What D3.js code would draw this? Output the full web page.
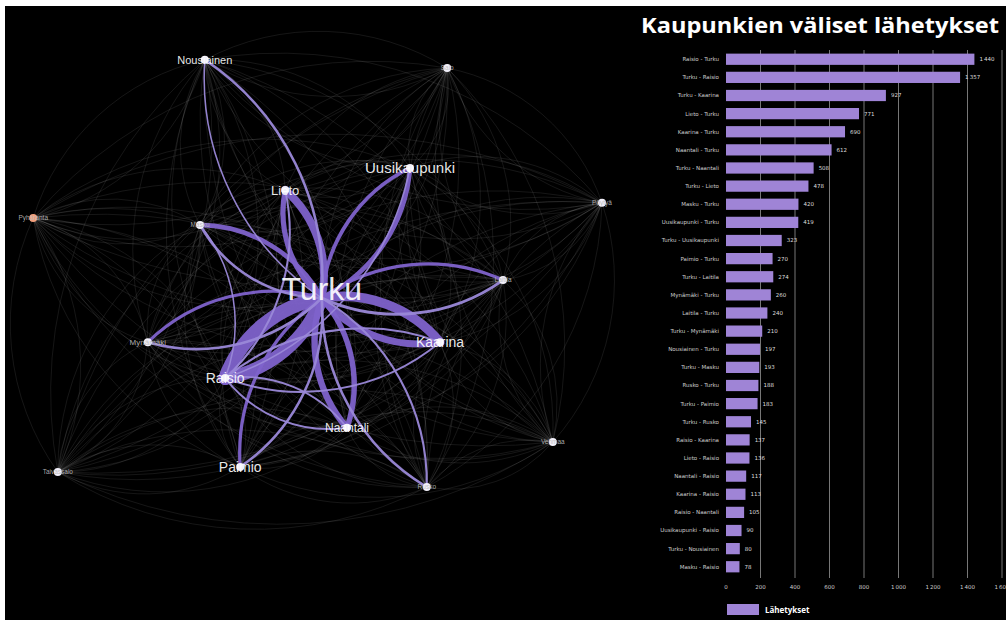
<!DOCTYPE html>
<html>
<head>
<meta charset="utf-8">
<script src="https://cdn.jsdelivr.net/npm/d3@7"></script>
<style>
  html, body { margin: 0; padding: 0; background: #fff; }
  svg { display: block; }
</style>
</head>
<body>
<svg id="chart" width="1006" height="625"></svg>
<script>
// Network nodes (layout coordinates, 0-100)
const nodeNames = ["Turku", "Raisio", "Naantali", "Kaarina", "Paimio", "Uusikaupunki", "Lieto",
    "Nousiainen", "Salo", "Pöytyä", "Pyhäranta", "Masku", "Laitila", "Mynämäki", "Vehmaa", "Rusko", "Taivassalo"];
const nodeX = [50.3, 34.2, 54.5, 70.0, 36.7, 65.0, 44.2, 30.8, 71.2, 97.0, 2.2, 30.0, 80.5, 21.3, 88.8, 67.8, 6.3];
const nodeY = [56.1, 73.5, 84.3, 65.7, 92.8, 27.8, 32.6, 4.3, 6.1, 35.4, 38.7, 40.2, 52.2, 65.7, 87.4, 97.2, 93.9];

// Flows between towns (bar chart + network links)
const flowLabels = ["Raisio - Turku", "Turku - Raisio", "Turku - Kaarina", "Lieto - Turku", "Kaarina - Turku",
    "Naantali - Turku", "Turku - Naantali", "Turku - Lieto", "Masku - Turku", "Uusikaupunki - Turku",
    "Turku - Uusikaupunki", "Paimio - Turku", "Turku - Laitila", "Mynämäki - Turku", "Laitila - Turku",
    "Turku - Mynämäki", "Nousiainen - Turku", "Turku - Masku", "Rusko - Turku", "Turku - Paimio",
    "Turku - Rusko", "Raisio - Kaarina", "Lieto - Raisio", "Naantali - Raisio", "Kaarina - Raisio",
    "Raisio - Naantali", "Uusikaupunki - Raisio", "Turku - Nousiainen", "Masku - Raisio"];
const flowValues = [1440, 1357, 927, 771, 690, 612, 508, 478, 420, 419, 323, 270, 274, 260, 240,
    210, 197, 193, 188, 183, 145, 137, 136, 117, 113, 105, 90, 80, 78];

const xTicks = [0, 200, 400, 600, 800, 1000, 1200, 1400, 1600];
const titleText = "Kaupunkien väliset lähetykset";
const legendText = "Lähetykset";

// label font sizes (style)
const labelSize = { Turku: 32, Raisio: 14, Uusikaupunki: 15, Kaarina: 14, Naantali: 12, Paimio: 14,
    Lieto: 13, Nousiainen: 11, "Mynämäki": 8 };

const svg = d3.select("#chart");
const fmt = d3.formatLocale({ decimal: ",", thousands: "\u2009", grouping: [3], currency: ["", ""] }).format(",d");

svg.append("rect")
    .attr("x", 5).attr("y", 6)
    .attr("width", 1001).attr("height", 614)
    .attr("fill", "#000");

// ---------- network ----------
const nx = d3.scaleLinear().domain([0, 100]).range([20, 620]);
const ny = d3.scaleLinear().domain([0, 100]).range([40, 500]);

const nodes = nodeNames.map((n, i) => ({ name: n, x: nx(nodeX[i]), y: ny(nodeY[i]) }));
const byName = new Map(nodes.map(d => [d.name, d]));

const links = flowLabels.map((l, i) => {
    const [s, t] = l.split(" - ");
    return { source: byName.get(s), target: byName.get(t), value: flowValues[i] };
});

function arcPath(a, b, k) {
    const d = Math.hypot(b.x - a.x, b.y - a.y);
    const r = d * k;
    return `M${a.x},${a.y}A${r},${r} 0 0,1 ${b.x},${b.y}`;
}

const net = svg.append("g").attr("class", "network");

// faint background connections between every pair of towns
const pairs = d3.cross(nodes, nodes).filter(([a, b]) => a !== b);
net.append("g")
    .selectAll("path")
    .data(pairs)
    .join("path")
    .attr("d", d => arcPath(d[0], d[1], 1))
    .attr("fill", "none")
    .attr("stroke", "#fff")
    .attr("stroke-opacity", 0.11)
    .attr("stroke-width", 0.8);

const wScale = d3.scaleLinear().domain([0, 1440]).range([0.8, 14]);

net.append("g")
    .selectAll("path")
    .data(links.slice().sort((a, b) => b.value - a.value))
    .join("path")
    .attr("d", d => arcPath(d.source, d.target, 1))
    .attr("fill", "none")
    .attr("stroke", d => d.value > 250 ? "#7e62cb" : "#9a88d8")
    .attr("stroke-opacity", 0.95)
    .attr("stroke-width", d => wScale(d.value))
    .attr("stroke-linecap", "round");

const nodeG = net.append("g")
    .selectAll("g")
    .data(nodes)
    .join("g")
    .attr("transform", d => `translate(${d.x},${d.y})`);

nodeG.append("circle")
    .attr("r", d => d.name === "Turku" ? 0 : 4)
    .attr("fill", d => d.name === "Pyhäranta" ? "#f4a07c" : "#f2f0fa");

nodeG.append("text")
    .text(d => d.name)
    .attr("text-anchor", "middle")
    .attr("dy", d => d.name === "Turku" ? "0.05em" : "0.35em")
    .attr("font-family", "'Liberation Sans', Arial, sans-serif")
    .attr("font-size", d => labelSize[d.name] || 6.5)
    .attr("fill", d => labelSize[d.name] && labelSize[d.name] > 8 ? "#fff" : "#bbb")
    .attr("fill-opacity", 0.92);

// ---------- bar chart ----------
const x = d3.scaleLinear().domain([0, 1600]).range([726, 1002]);
const y = d3.scaleBand().domain(flowLabels).range([50, 576]).paddingInner(0.38).paddingOuter(0.2);

svg.append("text")
    .attr("x", 641).attr("y", 33)
    .attr("textLength", 358)
    .attr("lengthAdjust", "spacingAndGlyphs")
    .attr("font-family", "'Open Sans', sans-serif")
    .attr("font-weight", "bold")
    .attr("font-size", 21)
    .attr("fill", "#fff")
    .text(titleText);

const bars = svg.append("g").attr("class", "bars");

bars.append("g")
    .selectAll("line")
    .data(xTicks.filter(t => t > 0))
    .join("line")
    .attr("x1", d => x(d)).attr("x2", d => x(d))
    .attr("y1", 50).attr("y2", 578)
    .attr("stroke", "#bbb")
    .attr("stroke-width", 0.8)
    .attr("stroke-opacity", 0.8);

bars.append("g")
    .selectAll("rect")
    .data(flowValues)
    .join("rect")
    .attr("x", x(0))
    .attr("y", (d, i) => y(flowLabels[i]))
    .attr("width", d => x(d) - x(0))
    .attr("height", y.bandwidth())
    .attr("fill", "#9f84d6");

bars.append("g")
    .selectAll("text")
    .data(flowValues)
    .join("text")
    .attr("x", d => x(d) + 5)
    .attr("y", (d, i) => y(flowLabels[i]) + y.bandwidth() / 2)
    .attr("dy", "0.35em")
    .attr("font-family", "'DejaVu Sans', sans-serif")
    .attr("font-size", 5.5)
    .attr("fill", "#ddd")
    .text(d => fmt(d));

bars.append("g")
    .selectAll("text")
    .data(flowLabels)
    .join("text")
    .attr("x", 719)
    .attr("y", d => y(d) + y.bandwidth() / 2)
    .attr("dy", "0.35em")
    .attr("text-anchor", "end")
    .attr("font-family", "'DejaVu Sans', sans-serif")
    .attr("font-size", 5.5)
    .attr("fill", "#ccc")
    .text(d => d);

bars.append("g")
    .selectAll("text")
    .data(xTicks)
    .join("text")
    .attr("x", d => x(d))
    .attr("y", 589)
    .attr("text-anchor", "middle")
    .attr("font-family", "'DejaVu Sans', sans-serif")
    .attr("font-size", 5.5)
    .attr("fill", "#ccc")
    .text(d => fmt(d));

// legend
svg.append("rect")
    .attr("x", 727).attr("y", 604)
    .attr("width", 32).attr("height", 11)
    .attr("fill", "#9f84d6");
svg.append("text")
    .attr("x", 765).attr("y", 612.5)
    .attr("font-family", "'Open Sans', sans-serif")
    .attr("font-weight", "bold")
    .attr("font-size", 8)
    .attr("fill", "#fff")
    .text(legendText);
</script>
</body>
</html>
